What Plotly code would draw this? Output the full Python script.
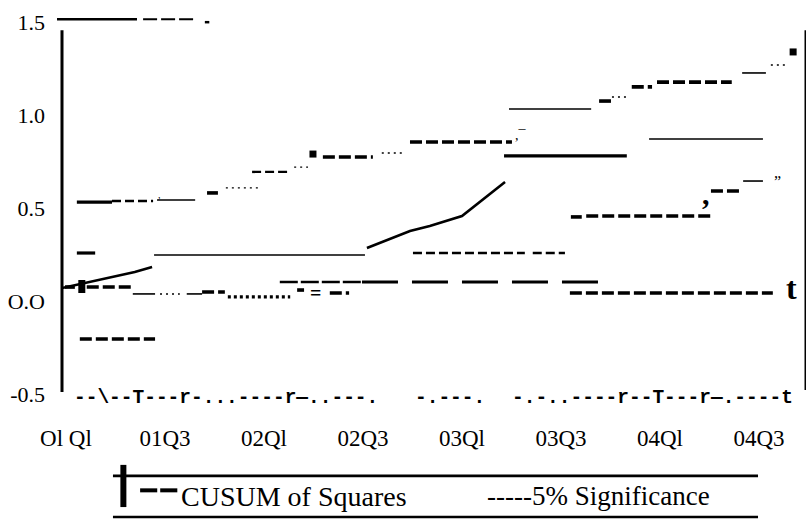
import plotly.graph_objects as go

# ---------------- data (quarter index: 0 = 01Q1, value on CUSUM scale) -------------
tick_pos = [0, 2, 4, 6, 8, 10, 12, 14]
tick_labels = ["Ol Ql", "01Q3", "02Ql", "02Q3", "03Ql", "03Q3", "04Ql", "04Q3"]
y_ticks = [-0.5, 0.0, 0.5, 1.0, 1.5]
y_labels = ["-0.5", "O.O", "0.5", "1.0", "1.5"]

# CUSUM of Squares - sloped pieces of the path
cusum_q = [-0.08, 0.28, 0.89, 1.39, 1.74, None, 6.08, 6.95, 7.35, 8.00, 8.87]
cusum_v = [0.070, 0.091, 0.124, 0.156, 0.183, None, 0.285, 0.376, 0.403, 0.457, 0.640]

# flat runs: (from quarter, to quarter, value)
thin_runs = [(1.78, 6.04, 0.247), (1.84, 2.61, 0.543), (8.95, 10.61, 1.032),
             (11.78, 14.08, 0.871), (13.66, 14.14, 1.226), (13.68, 14.08, 0.645),
             (1.35, 1.80, 0.038), (2.44, 2.75, 0.038)]
heavy_runs = [(0.22, 0.93, 0.532), (0.22, 0.59, 0.258), (8.85, 11.33, 0.780)]

# 5% significance bands (broken dashed runs)
upper_dash = [(2.85, 3.07, 0.581), (5.19, 6.20, 0.774), (6.95, 9.01, 0.855),
              (10.77, 11.01, 1.075), (11.43, 11.84, 1.151), (11.94, 13.45, 1.177)]
lower_dash = [(0.28, 1.80, -0.204), (10.20, 10.42, 0.452), (10.51, 13.03, 0.457),
              (13.03, 13.60, 0.591), (10.18, 14.28, 0.043), (0.42, 1.35, 0.075),
              (2.75, 3.21, 0.048), (5.33, 5.72, 0.043), (-0.02, 0.18, 0.075),
              (4.67, 4.81, 0.059)]
medium_dash = [(0.93, 1.76, 0.538), (3.76, 4.53, 0.694), (7.01, 9.27, 0.258),
               (9.43, 10.08, 0.258)]
long_dash = [(5.98, 10.79, 0.102)]
split_dash = [(4.32, 5.98, 0.102)]
dotted = [(3.23, 3.92, 0.608), (4.61, 4.89, 0.720), (6.38, 6.81, 0.796),
          (11.03, 11.39, 1.097), (14.24, 14.57, 1.269), (1.90, 2.30, 0.038)]
heavy_dots = [(3.27, 4.53, 0.022)]
square_q = [4.99, 14.69]
square_v = [0.790, 1.339]
bar_q = [0.32, 0.32]
bar_v = [0.043, 0.113]


def runs_to_xy(runs):
    xs, ys = [], []
    for a, b, v in runs:
        xs += [a, b, None]
        ys += [v, v, None]
    return xs, ys


fig = go.Figure()


def add_line(x, y, width, dash="solid"):
    fig.add_trace(go.Scatter(x=x, y=y, mode="lines", showlegend=False,
                             hoverinfo="skip", connectgaps=False,
                             line=dict(color="black", width=width, dash=dash)))


add_line(cusum_q, cusum_v, 2.6)
add_line(*runs_to_xy(thin_runs), 1.6)
add_line(*runs_to_xy(heavy_runs), 3.2)
add_line(*runs_to_xy(upper_dash), 3.6, "12px,4px")
add_line(*runs_to_xy(lower_dash), 3.6, "12px,4px")
add_line(*runs_to_xy(medium_dash), 2.4, "9px,4px")
add_line(*runs_to_xy(long_dash), 3.0, "36px,14px")
add_line(*runs_to_xy(split_dash), 2.4, "18px,3px")
add_line(*runs_to_xy(dotted), 1.4, "2px,4px")
add_line(*runs_to_xy(heavy_dots), 3.4, "3px,3px")
add_line(bar_q, bar_v, 7)
fig.add_trace(go.Scatter(x=square_q, y=square_v, mode="markers", showlegend=False,
                         hoverinfo="skip",
                         marker=dict(symbol="square", size=7, color="black")))

serif = "Liberation Serif"
mono = "Liberation Mono"

shapes = [
    # left axis
    dict(type="line", xref="paper", yref="paper", x0=0, x1=0, y0=0.016, y1=0.968,
         line=dict(color="black", width=3)),
    # right edge
    dict(type="line", xref="paper", yref="paper", x0=0.999, x1=0.999, y0=0.021, y1=0.968,
         line=dict(color="black", width=1.5)),
    # broken top frame
    dict(type="line", xref="paper", yref="paper", x0=-0.0067, x1=0.1008, y0=0.997, y1=0.997,
         line=dict(color="black", width=2.5)),
    dict(type="line", xref="paper", yref="paper", x0=0.109, x1=0.1788, y0=0.997, y1=0.997,
         line=dict(color="black", width=2, dash="14px,4px")),
    dict(type="line", xref="paper", yref="paper", x0=0.192, x1=0.198, y0=0.989, y1=0.989,
         line=dict(color="black", width=2.5)),
    # legend box lines
    dict(type="line", xref="paper", yref="paper", x0=0.0685, x1=0.9355, y0=-0.205, y1=-0.205,
         line=dict(color="black", width=2.6)),
    dict(type="line", xref="paper", yref="paper", x0=0.0685, x1=0.9355, y0=-0.313, y1=-0.313,
         line=dict(color="black", width=2.6)),
    dict(type="line", xref="paper", yref="paper", x0=0.0825, x1=0.0825, y0=-0.176, y1=-0.287,
         line=dict(color="black", width=6)),
    dict(type="line", xref="paper", yref="paper", x0=0.105, x1=0.128, y0=-0.243, y1=-0.243,
         line=dict(color="black", width=4)),
    dict(type="line", xref="paper", yref="paper", x0=0.132, x1=0.155, y0=-0.243, y1=-0.243,
         line=dict(color="black", width=4)),
]

annotations = [
    dict(text="--\\--T---r-...----r\u2014..---.", x=0.0134, y=0, xref="paper", yref="paper",
         xanchor="left", yanchor="middle", showarrow=False,
         font=dict(family=mono, size=19.5, color="black", weight="bold")),
    dict(text="-.---.", x=0.4718, y=0, xref="paper", yref="paper",
         xanchor="left", yanchor="middle", showarrow=False,
         font=dict(family=mono, size=19.5, color="black", weight="bold")),
    dict(text="-.-..----r--T---r\u2014.----t", x=0.6022, y=0, xref="paper", yref="paper",
         xanchor="left", yanchor="middle", showarrow=False,
         font=dict(family=mono, size=19.5, color="black", weight="bold")),
    dict(text="CUSUM of Squares", x=0.1573, y=-0.258, xref="paper", yref="paper",
         xanchor="left", yanchor="middle", showarrow=False,
         font=dict(family=serif, size=28, color="black")),
    dict(text="-----5% Significance", x=0.5685, y=-0.258, xref="paper", yref="paper",
         xanchor="left", yanchor="middle", showarrow=False,
         font=dict(family=serif, size=27, color="black")),
    # stray glyphs inside the plot
    dict(text="t", x=14.65, y=0.07, showarrow=False, xanchor="center", yanchor="middle",
         font=dict(family=serif, size=32, color="black", weight="bold")),
    dict(text=",", x=12.93, y=0.58, showarrow=False, xanchor="center", yanchor="middle",
         font=dict(family=serif, size=30, color="black", weight="bold")),
    dict(text="\u201d", x=14.38, y=0.64, showarrow=False, xanchor="center", yanchor="middle",
         font=dict(family=serif, size=16, color="black")),
    dict(text=",\u00af", x=9.2, y=0.89, showarrow=False, xanchor="center", yanchor="middle",
         font=dict(family=serif, size=14, color="black")),
    dict(text="=", x=5.04, y=0.045, showarrow=False, xanchor="center", yanchor="middle",
         font=dict(family=serif, size=20, color="black", weight="bold")),
    dict(text=",", x=1.88, y=0.57, showarrow=False, xanchor="center", yanchor="middle",
         font=dict(family=serif, size=10, color="black")),
]

fig.update_layout(
    width=807, height=520,
    margin=dict(l=62, r=1, t=18, b=122, autoexpand=False),
    paper_bgcolor="white", plot_bgcolor="white",
    shapes=shapes, annotations=annotations, showlegend=False,
    xaxis=dict(range=[-0.08, 14.95], showgrid=False, zeroline=False, showline=False,
               tickvals=tick_pos, ticktext=tick_labels, ticks="",
               tickfont=dict(family=serif, size=23, color="black"),
               ticklabelstandoff=24, automargin=False, fixedrange=True),
    yaxis=dict(range=[-0.5215, 1.5215], showgrid=False, zeroline=False, showline=False,
               tickvals=y_ticks, ticktext=y_labels, ticks="",
               tickfont=dict(family=serif, size=22, color="black"),
               ticklabelstandoff=16, automargin=False, fixedrange=True),
)

fig.write_html("out.html", config={"displayModeBar": False},
               post_script="document.body.style.margin='0';")
